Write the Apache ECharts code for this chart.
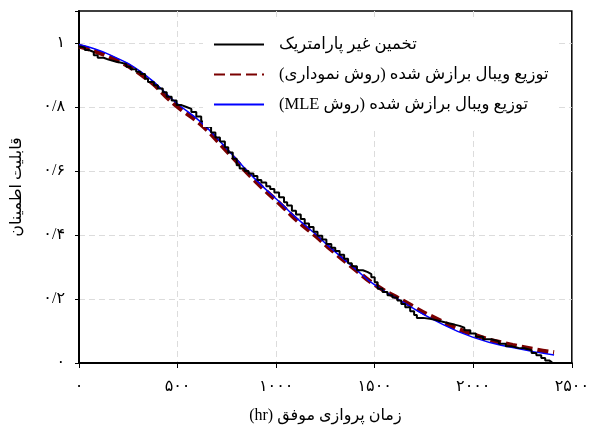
<!DOCTYPE html>
<html>
<head>
  <meta charset="utf-8"/>
  <script src="https://cdn.jsdelivr.net/npm/echarts@6/dist/echarts.min.js"></script>
  <style>html,body{margin:0;padding:0;background:#fff;}</style>
</head>
<body>
  <div id="chartmain" dir="rtl" style="width:592px; height:432px;"></div>
  <script type="text/javascript">
    // تخمین غیر پارامتریک (پله ای)
    var kmTime = [0,15,30,50,75,95,125,150,185,215,240,262,290,312,335,350,380,400,425,445,470,495,520,545,570,595,620,645,670,692,715,740,757,780,800,815,840,860,885,905,925,950,970,991,1015,1040,1056,1080,1101,1125,1145,1167,1190,1210,1234,1255,1280,1300,1322,1345,1365,1384,1410,1440,1465,1483,1500,1515,1540,1565,1590,1615,1635,1655,1680,1700,1714,1745,1780,1813,1845,1875,1905,1931,1955,1985,2013,2050,2090,2130,2165,2196,2230,2260,2296,2320,2345,2365,2385,2400];
    var kmRel = [0.988,0.985,0.978,0.972,0.962,0.954,0.948,0.942,0.938,0.934,0.926,0.918,0.91,0.903,0.888,0.878,0.868,0.858,0.846,0.832,0.82,0.806,0.8,0.794,0.784,0.77,0.755,0.738,0.72,0.705,0.692,0.674,0.658,0.638,0.618,0.608,0.6,0.592,0.584,0.572,0.564,0.552,0.544,0.533,0.518,0.502,0.492,0.476,0.464,0.45,0.436,0.425,0.41,0.398,0.386,0.372,0.36,0.35,0.338,0.326,0.312,0.302,0.29,0.284,0.278,0.268,0.252,0.232,0.222,0.212,0.205,0.195,0.184,0.174,0.162,0.15,0.141,0.138,0.134,0.129,0.124,0.12,0.116,0.11,0.102,0.092,0.082,0.074,0.068,0.06,0.052,0.047,0.046,0.04,0.031,0.024,0.016,0.008,0.002,0];

    // توزیع ویبال برازش شده
    var fitTime = [0,160,330,490,620,740,890,1040,1100,1205,1265,1400,1500,1650,1800,2000,2200,2410];
    var rankRel = [0.99,0.955,0.895,0.806,0.745,0.669,0.572,0.485,0.449,0.395,0.362,0.293,0.245,0.192,0.142,0.089,0.056,0.033];
    var mleRel = [0.995,0.962,0.903,0.815,0.752,0.676,0.577,0.49,0.455,0.4,0.366,0.295,0.244,0.188,0.135,0.08,0.048,0.025];

    var xTickLabels = ['۰','۵۰۰','۱۰۰۰','۱۵۰۰','۲۰۰۰','۲۵۰۰'];
    var yTickLabels = ['۰','۰/۲','۰/۴','۰/۶','۰/۸','۱'];
    var seriesNames = ['تخمین غیر پارامتریک', 'توزیع ویبال برازش شده (روش نموداری)', 'توزیع ویبال برازش شده (روش MLE)'];

    function zip(xs, ys) {
      var out = [];
      for (var i = 0; i < xs.length; i++) out.push([xs[i], ys[i]]);
      return out;
    }

    var font = "'Liberation Serif', 'DejaVu Sans', serif";
    var grid = { color: '#dcdcdc', type: [6, 4], width: 1 };

    var option = {
      animation: false,
      textStyle: { fontFamily: font, color: '#000' },
      grid: { left: 79, right: 11, top: 11, bottom: 69, show: true, borderColor: '#000', borderWidth: 1.5 },
      legend: {
        orient: 'vertical',
        left: 203,
        top: 17,
        padding: [19, 8, 14, 10],
        backgroundColor: '#fff',
        itemWidth: 50,
        itemHeight: 14,
        itemGap: 13,
        z: 10,
        data: seriesNames,
        itemStyle: { opacity: 0 },
        textStyle: { fontFamily: font, fontSize: 16.5, color: '#000', padding: [0, 0, 0, 10] }
      },
      xAxis: {
        type: 'value',
        min: 0, max: 2500, interval: 500,
        name: 'زمان پروازی موفق (hr)',
        nameLocation: 'middle',
        nameGap: 45,
        nameTextStyle: { fontFamily: font, fontSize: 16, color: '#000' },
        axisLine: { lineStyle: { color: '#000', width: 2 } },
        axisTick: { length: 5, lineStyle: { color: '#000' } },
        axisLabel: {
          fontFamily: font, fontSize: 16, color: '#000', margin: 16,
          formatter: function (v) { return xTickLabels[Math.round(v / 500)] || ''; }
        },
        splitLine: { show: true, showMinLine: false, showMaxLine: false, lineStyle: grid }
      },
      yAxis: {
        type: 'value',
        min: 0, max: 1.1, interval: 0.2,
        name: 'قابلیت اطمینان',
        nameLocation: 'middle',
        nameGap: 54,
        nameTextStyle: { fontFamily: font, fontSize: 16, color: '#000' },
        axisLine: { show: true, lineStyle: { color: '#000', width: 2 } },
        axisTick: { show: true, length: 4, lineStyle: { color: '#000' } },
        axisLabel: {
          fontFamily: font, fontSize: 16, color: '#000', margin: 14,
          formatter: function (v) { return yTickLabels[Math.round(v / 0.2)] || ''; }
        },
        splitLine: { show: true, showMinLine: false, showMaxLine: false, lineStyle: grid }
      },
      series: [
        {
          name: seriesNames[1],
          type: 'line',
          smooth: true,
          symbol: 'none',
          z: 2,
          lineStyle: { color: '#7a0000', width: 4.5, type: [11, 5] },
          itemStyle: { color: '#7a0000' },
          data: zip(fitTime, rankRel)
        },
        {
          name: seriesNames[2],
          type: 'line',
          smooth: true,
          symbol: 'none',
          z: 3,
          lineStyle: { color: '#0000ff', width: 1.5 },
          itemStyle: { color: '#0000ff' },
          data: zip(fitTime, mleRel)
        },
        {
          name: seriesNames[0],
          type: 'line',
          step: 'end',
          symbol: 'none',
          z: 4,
          lineStyle: { color: '#000', width: 2 },
          itemStyle: { color: '#000' },
          data: zip(kmTime, kmRel)
        }
      ]
    };

    var myChart = echarts.init(document.getElementById('chartmain'));
    myChart.setOption(option);
  </script>
</body>
</html>
